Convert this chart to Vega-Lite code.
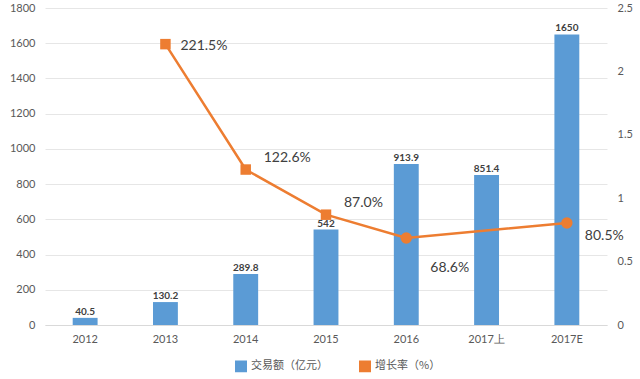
{
  "$schema": "https://vega.github.io/schema/vega-lite/v6.json",
  "autosize": {"type": "none"},
  "width": 562,
  "height": 317,
  "padding": {"left": 45, "top": 8, "right": 33, "bottom": 54},
  "background": "white",
  "config": {
    "view": {"stroke": null},
    "font": "Lato",
    "axis": {"labelColor": "#595959", "labelFontSize": 11, "ticks": false, "domain": false, "title": null}
  },
  "data": {
    "values": [
      {"year": "2012", "amount": 40.5, "growth": null, "glabel": ""},
      {"year": "2013", "amount": 130.2, "growth": 2.215, "glabel": "221.5%"},
      {"year": "2014", "amount": 289.8, "growth": 1.226, "glabel": "122.6%"},
      {"year": "2015", "amount": 542, "growth": 0.87, "glabel": "87.0%"},
      {"year": "2016", "amount": 913.9, "growth": 0.686, "glabel": "68.6%"},
      {"year": "2017上", "amount": 851.4, "growth": null, "glabel": ""},
      {"year": "2017E", "amount": 1650, "growth": 0.805, "glabel": "80.5%"}
    ]
  },
  "encoding": {
    "x": {
      "field": "year", "type": "nominal", "sort": null,
      "scale": {"paddingInner": 0.69, "paddingOuter": 0.345},
      "axis": {"labelAngle": 0, "domain": true, "domainColor": "#d9d9d9", "labelPadding": 8, "grid": false}
    }
  },
  "layer": [
    {
      "encoding": {
        "y": {"field": "amount", "type": "quantitative",
          "scale": {"domain": [0, 1800], "nice": false},
          "axis": {"tickCount": 9, "format": "d", "grid": true, "gridColor": "#e6e6e6", "labelPadding": 10, "labelOverlap": false, "labelBound": false}}
      },
      "layer": [
        {
          "mark": {"type": "bar"},
          "encoding": {
            "color": {"datum": "交易额（亿元）", "type": "nominal",
              "scale": {"domain": ["交易额（亿元）", "增长率（%）"], "range": ["#5B9BD5", "#ED7D31"]},
              "legend": {"orient": "none", "legendX": 190, "legendY": 352, "direction": "horizontal", "title": null,
                "symbolType": "square", "symbolSize": 110, "labelFontSize": 11, "labelColor": "#595959", "columnPadding": 28, "labelFont": "Noto Sans CJK SC"}}
          }
        },
        {
          "mark": {"type": "text", "dy": -6, "fontSize": 10, "fontWeight": "bold", "color": "#404040"},
          "encoding": {
            "text": {"field": "amount", "type": "nominal"}
          }
        }
      ]
    },
    {
      "transform": [{"filter": "datum.growth != null"}],
      "encoding": {
        "y": {"field": "growth", "type": "quantitative",
          "scale": {"domain": [0, 2.5]},
          "axis": {"orient": "right", "values": [0, 0.5, 1, 1.5, 2, 2.5], "format": "~g", "grid": false, "labelPadding": 10}}
      },
      "layer": [
        {
          "mark": {"type": "line", "color": "#ED7D31", "strokeWidth": 2.5},
          "encoding": {
            "color": {"datum": "增长率（%）", "type": "nominal"}
          }
        },
        {
          "transform": [{"filter": {"field": "year", "oneOf": ["2013", "2014", "2015"]}}],
          "mark": {"type": "point", "shape": "square", "filled": true, "size": 110, "color": "#ED7D31", "opacity": 1}
        },
        {
          "transform": [{"filter": {"field": "year", "oneOf": ["2016", "2017E"]}}],
          "mark": {"type": "point", "shape": "circle", "filled": true, "size": 130, "color": "#ED7D31", "opacity": 1}
        },
        {
          "transform": [{"filter": {"field": "year", "oneOf": ["2013"]}}],
          "mark": {"type": "text", "align": "left", "dx": 15, "dy": 2, "fontSize": 14, "color": "#404040"},
          "encoding": {"text": {"field": "glabel"}}
        },
        {
          "transform": [{"filter": {"field": "year", "oneOf": ["2014", "2015"]}}],
          "mark": {"type": "text", "align": "left", "dx": 18, "dy": -12, "fontSize": 14, "color": "#404040"},
          "encoding": {"text": {"field": "glabel"}}
        },
        {
          "transform": [{"filter": {"field": "year", "oneOf": ["2016"]}}],
          "mark": {"type": "text", "align": "left", "dx": 24, "dy": 30, "fontSize": 14, "color": "#404040"},
          "encoding": {"text": {"field": "glabel"}}
        },
        {
          "transform": [{"filter": {"field": "year", "oneOf": ["2017E"]}}],
          "mark": {"type": "text", "align": "left", "dx": 18, "dy": 13, "fontSize": 14, "color": "#404040"},
          "encoding": {"text": {"field": "glabel"}}
        }
      ]
    }
  ],
  "resolve": {"scale": {"y": "independent"}}
}
